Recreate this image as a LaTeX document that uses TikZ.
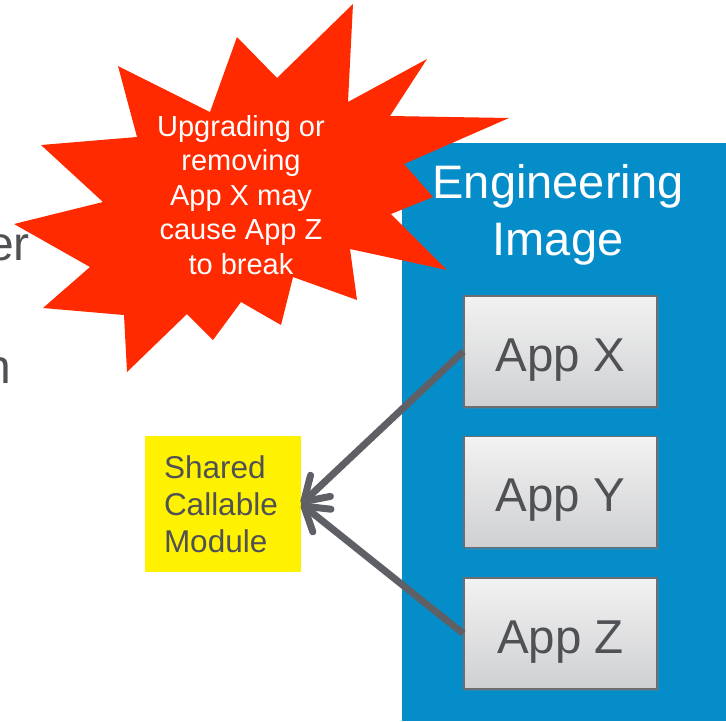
\documentclass[tikz,border=0pt]{standalone}
\usepackage{fontspec}
\setmainfont{Liberation Sans}
\usetikzlibrary{arrows.meta,shadows}
\definecolor{bluebg}{HTML}{058DCA}
\definecolor{redburst}{HTML}{FF2A00}
\definecolor{darktext}{HTML}{505155}
\definecolor{arrowgray}{HTML}{5F6066}
\definecolor{boxborder}{HTML}{6D6E71}
\definecolor{boxtop}{HTML}{F2F2F2}
\definecolor{boxbottom}{HTML}{CFD0D2}
\tikzset{
  appbox/.style={draw=boxborder, line width=1.5pt, top color=boxtop, bottom color=boxbottom,
    minimum width=193pt, minimum height=111pt, inner sep=0pt, text=darktext,
    font=\fontsize{47.5}{55}\selectfont, text height=44pt, text depth=5pt,
    drop shadow={shadow xshift=1.5pt, shadow yshift=-2pt, opacity=0.35}},
  callarrow/.style={draw=arrowgray, line width=7pt,
    -{Straight Barb[length=23pt, width=29pt, round]}},
  cuttext/.style={text=darktext, font=\fontsize{48}{56}\selectfont, inner sep=0pt, anchor=base east}
}
\begin{document}
\begin{tikzpicture}[x=1pt,y=-1pt]
\useasboundingbox (0,0) rectangle (726,721);
% partial cut-off text
\node[cuttext] (cut1) at (30,260) {er};
\node[cuttext] (cut2) at (11,383) {n};
% engineering image container
\node[fill=bluebg, minimum width=324pt, minimum height=578pt, inner sep=0pt] (eng) at (564,432) {};
% starburst
\fill[redburst] (353,4) -- (348,102) -- (427,59) -- (390,116) -- (509,118) -- (404,164) -- (433,197)
  -- (391,214) -- (447,270) -- (350,249) -- (357,300) -- (293,277) -- (281,325) -- (241,302)
  -- (213,340) -- (187,314) -- (127,372) -- (124,315) -- (43,308) -- (90,267) -- (14,224)
  -- (103,202) -- (41,145) -- (137,137) -- (118,66) -- (210,112) -- (237,37) -- (277,78) -- cycle;
\node[text=white, align=center, font=\fontsize{29}{34.5}\selectfont] (warn) at (241,195)
  {Upgrading or\\removing\\App X may\\cause App Z\\to break};
% title
\node[text=white, align=center, font=\fontsize{47}{57}\selectfont] (title) at (558,215)
  {Engineering\\Image};
% app boxes
\node[appbox] (appx) at (560.5,351.5) {App X};
\node[appbox] (appy) at (560.5,492) {App Y};
\node[appbox] (appz) at (560.5,633.5) {App Z};
% shared module
\node[fill=yellow, minimum width=156pt, minimum height=136pt, text width=118pt, align=left,
  text=darktext, font=\fontsize{31.5}{37}\selectfont] (shared) at (223,504) {Shared\\Callable\\Module};
% connectors
\draw[callarrow] (appx.west) -- (shared.east);
\draw[callarrow] (appz.west) -- (shared.east);
\end{tikzpicture}
\end{document}
